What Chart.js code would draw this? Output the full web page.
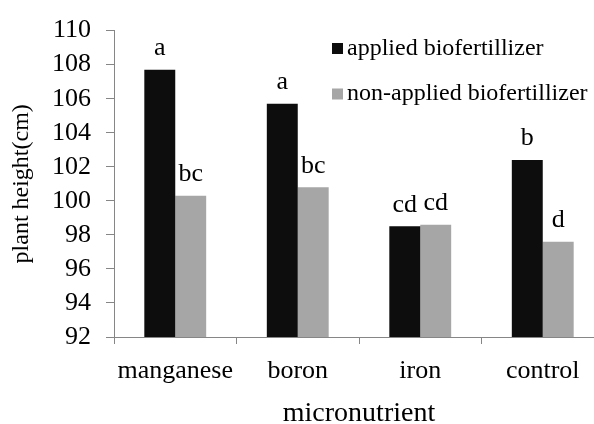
<!DOCTYPE html>
<html>
<head>
<meta charset="utf-8">
<script src="https://cdn.jsdelivr.net/npm/chart.js@4/dist/chart.umd.min.js"></script>
<style>
  html, body { margin: 0; padding: 0; background: #ffffff; overflow: hidden; }
  #wrap { width: 594px; height: 424px; overflow: hidden; position: relative; background: #fff; font-family: "Liberation Serif", serif; }
  canvas { display: block; }
</style>
</head>
<body>
<div id="wrap"><canvas id="c" width="610" height="440" style="width:610px;height:440px"></canvas></div>
<script>
// ---- data ----
const categories = ["manganese", "boron", "iron", "control"];
const seriesNames = ["applied biofertillizer", "non-applied biofertillizer"];
const appliedValues = [107.7, 105.7, 98.5, 102.4];
const nonAppliedValues = [100.3, 100.8, 98.6, 97.6];
const appliedLetters = ["a", "a", "cd", "b"];
const nonAppliedLetters = ["bc", "bc", "cd", "d"];
const yTickMin = 92, yTickMax = 110, yTickStep = 2;
const xTitle = "micronutrient";
const yTitle = "plant height(cm)";

const FONT = '"Liberation Serif", "Times New Roman", serif';
const letterSets = [appliedLetters, nonAppliedLetters];

const letterPlugin = {
  id: 'letters',
  afterDatasetsDraw(chart) {
    const ctx = chart.ctx;
    ctx.save();
    ctx.font = "26px " + FONT;
    ctx.fillStyle = "#000";
    ctx.textAlign = "center";
    ctx.textBaseline = "alphabetic";
    chart.data.datasets.forEach((ds, i) => {
      const meta = chart.getDatasetMeta(i);
      meta.data.forEach((el, j) => {
        ctx.fillText(letterSets[i][j], el.x, el.y - 14.5);
      });
    });
    ctx.restore();
  }
};

const legendPlugin = {
  id: 'customLegend',
  afterDraw(chart) {
    const ctx = chart.ctx;
    const rows = [48.5, 94];
    ctx.save();
    ctx.font = "24px " + FONT;
    ctx.textAlign = "left";
    ctx.textBaseline = "middle";
    chart.data.datasets.forEach((ds, i) => {
      const y = rows[i];
      ctx.fillStyle = ds.backgroundColor;
      ctx.fillRect(332, y - 5.5, 11, 11);
      ctx.fillStyle = "#000";
      ctx.fillText(ds.label, 347, y);
    });
    ctx.restore();
  }
};

function build() {
  new Chart(document.getElementById('c'), {
    type: 'bar',
    data: {
      labels: categories,
      datasets: [
        { label: seriesNames[0], data: appliedValues, backgroundColor: '#0d0d0d', borderWidth: 0 },
        { label: seriesNames[1], data: nonAppliedValues, backgroundColor: '#a6a6a6', borderWidth: 0 }
      ]
    },
    options: {
      responsive: false,
      animation: false,
      devicePixelRatio: 1,
      layout: { padding: { left: 0, right: 6, top: 22, bottom: 0 } },
      datasets: { bar: { categoryPercentage: 0.505, barPercentage: 1.0 } },
      plugins: {
        legend: { display: false },
        tooltip: { enabled: false }
      },
      scales: {
        x: {
          offset: true,
          grid: { offset: true, drawOnChartArea: false, drawTicks: true, tickLength: 7, color: '#868686', lineWidth: 1 },
          border: { display: true, color: '#868686', width: 1 },
          ticks: { color: '#000', font: { family: FONT, size: 26 }, padding: 12, maxRotation: 0, autoSkip: false },
          title: { display: true, text: xTitle, color: '#000', font: { family: FONT, size: 28 }, padding: { top: 0, bottom: 9.2 } },
          afterFit(scale) { scale.height = 103; }
        },
        y: {
          min: yTickMin,
          max: yTickMax,
          grid: { drawOnChartArea: false, drawTicks: true, tickLength: 8, color: '#868686', lineWidth: 1 },
          border: { display: true, color: '#868686', width: 1 },
          ticks: { stepSize: yTickStep, autoSkip: false, color: '#000', font: { family: FONT, size: 26 }, padding: 15 },
          title: { display: true, text: yTitle, color: '#000', font: { family: FONT, size: 24 }, padding: { top: 7, bottom: 0 } },
          afterFit(scale) { scale.width = 114; }
        }
      }
    },
    plugins: [letterPlugin, legendPlugin]
  });
}

if (document.fonts && document.fonts.load) {
  Promise.all([
    document.fonts.load('26px "Liberation Serif"'),
    document.fonts.load('24px "Liberation Serif"')
  ]).then(build, build);
} else {
  build();
}
</script>
</body>
</html>
